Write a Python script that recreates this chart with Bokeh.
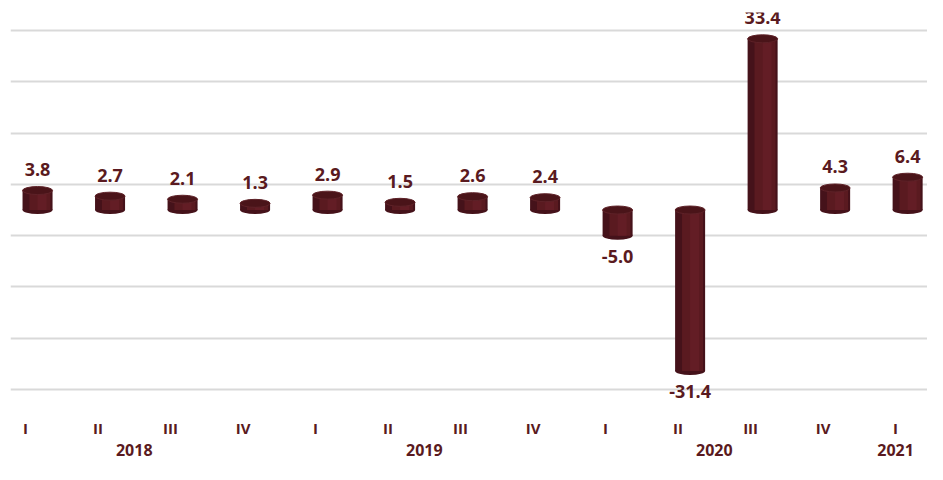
import numpy as np
from bokeh.plotting import figure
from bokeh.models import LinearAxis, FixedTicker, ColumnDataSource, Range1d
from bokeh.core.properties import value
from bokeh.embed import file_html
from bokeh.resources import INLINE

quarters = ["I", "II", "III", "IV", "I", "II", "III", "IV", "I", "II", "III", "IV", "I"]
years = ["2018"] * 4 + ["2019"] * 4 + ["2020"] * 4 + ["2021"]
values = [3.8, 2.7, 2.1, 1.3, 2.9, 1.5, 2.6, 2.4, -5.0, -31.4, 33.4, 4.3, 6.4]
grid_ticks = [-35, -25, -15, -5, 5, 15, 25, 35]

TXT = "#5a1a20"
EDGE = "#45121a"
BODY = "#5a1a20"
HILITE = "#672028"
CAP = "#4a1419"
FONT = "Open Sans"

n = len(values)
idx = np.arange(n)
vals = np.array(values)
xb = idx + 0.166
bw = 0.414
bot = np.minimum(vals, 0)
top = np.maximum(vals, 0)

src = ColumnDataSource(dict(x=xb, bot=bot, top=top,
                            xm=xb + bw * 0.08, xh=xb + bw * 0.15,
                            lab=[f"{v:.1f}" for v in values],
                            ly=vals,
                            off=np.where(vals >= 0, -21, 21)))

p = figure(width=927, height=464, output_backend="svg", toolbar_location=None,
           x_range=Range1d(-0.207, 12.44), y_range=Range1d(-37.16, 38.53),
           min_border_left=10, min_border_right=0, min_border_top=12, min_border_bottom=0)
p.outline_line_color = None
p.xaxis.visible = False
p.yaxis.visible = False
p.xgrid.grid_line_color = None
p.ygrid.ticker = FixedTicker(ticks=grid_ticks)
p.ygrid.grid_line_color = "#d9d9d9"
p.ygrid.grid_line_width = 2

# bottom rounding
p.ellipse(x="x", y="bot", width=bw, height=8, width_units="data", height_units="screen",
          source=src, fill_color=EDGE, line_color=None)
# cylinder body with shading strips
p.vbar(x="x", bottom="bot", top="top", width=bw, source=src, fill_color=EDGE, line_color=None)
p.vbar(x="xm", bottom="bot", top="top", width=bw * 0.7, source=src, fill_color=BODY, line_color=None)
p.vbar(x="xh", bottom="bot", top="top", width=bw * 0.3, source=src, fill_color=HILITE,
       fill_alpha=0.7, line_color=None)
# top cap
p.ellipse(x="x", y="top", width=bw, height=8, width_units="data", height_units="screen",
          source=src, fill_color=CAP, line_color="#5e2228", line_width=1)

p.text(x="x", y="ly", text="lab", y_offset="off", source=src, text_align="center",
       text_baseline="middle", text_font=value(FONT), text_font_style="bold",
       text_font_size="18px", text_color=TXT)

# quarter axis
qax = LinearAxis(ticker=FixedTicker(ticks=list(idx)),
                 major_label_overrides={int(i): q for i, q in zip(idx, quarters)})
# year axis
uy = list(dict.fromkeys(years))
ycent = [float(np.mean(idx[np.array(years) == y])) for y in uy]
yax = LinearAxis(ticker=FixedTicker(ticks=ycent),
                 major_label_overrides={c: y for c, y in zip(ycent, uy)})
for ax, st, fs in ((qax, 17, "15px"), (yax, 3, "16px")):
    ax.axis_line_color = None
    ax.major_tick_line_color = None
    ax.minor_tick_line_color = None
    ax.major_tick_out = 0
    ax.major_tick_in = 0
    ax.minor_tick_out = 0
    ax.minor_tick_in = 0
    ax.major_label_standoff = st
    ax.major_label_text_font = FONT
    ax.major_label_text_font_style = "bold"
    ax.major_label_text_font_size = fs
    ax.major_label_text_color = TXT
    p.add_layout(ax, "below")
# small spacer below the year labels
yax.axis_label = " "
yax.axis_label_standoff = 0
yax.axis_label_text_font_size = "3px"

open("out.html", "w").write(file_html(p, INLINE))
